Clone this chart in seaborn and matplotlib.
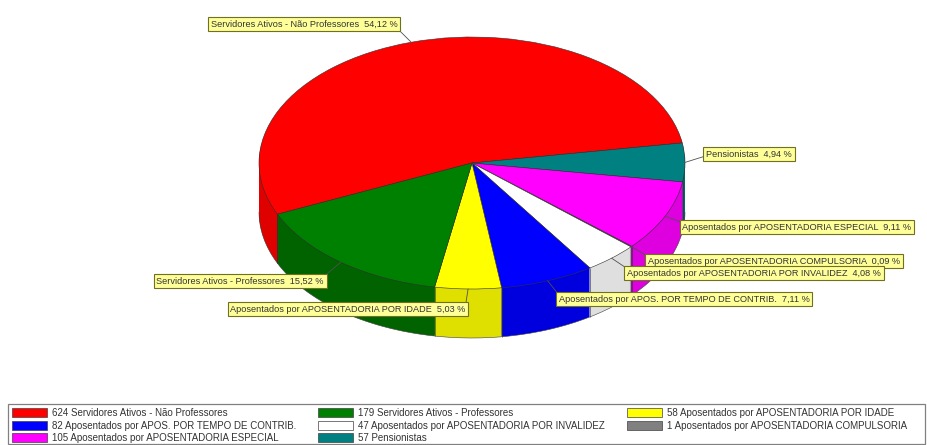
import numpy as np
import pandas as pd
import matplotlib.pyplot as plt
from matplotlib.patches import Patch, Rectangle
import seaborn as sns

# slice order around the pie, clockwise from the left edge of the red slice
names = ['Servidores Ativos - Não Professores', 'Pensionistas', 'Aposentados por APOSENTADORIA ESPECIAL',
         'Aposentados por APOSENTADORIA COMPULSORIA', 'Aposentados por APOSENTADORIA POR INVALIDEZ',
         'Aposentados por APOS. POR TEMPO DE CONTRIB.', 'Aposentados por APOSENTADORIA POR IDADE',
         'Servidores Ativos - Professores']
counts = [624, 57, 105, 1, 47, 82, 58, 179]
percents = ['54,12', '4,94', '9,11', '0,09', '4,08', '7,11', '5,03', '15,52']
colors = ['#ff0000', '#008080', '#ff00ff', '#808080', '#ffffff', '#0000ff', '#ffff00', '#008000']

# legend is filled column by column
legend_order = [0, 5, 2, 7, 4, 1, 6, 3]

# label box centres in pixels of the 928x445 picture, and where the leader leaves the box
label_px = [(304, 24), (749, 154), (797, 227), (774, 261), (754, 273), (684, 299), (348, 309), (240, 281)]
leader_rel = [(1, 0), (0, 0.3), (0, 1), (0, 1), (0, 1), (0, 1), (1, 1), (1, 1)]

W, H = 928, 445
CX, CY, RX, RY, DEPTH = 472, 163, 213, 126, 49
START = 204

sns.set_theme(style='white')
plt.rcParams['font.family'] = ['Liberation Sans', 'DejaVu Sans']

df = pd.DataFrame({'name': names, 'count': counts, 'pct': percents, 'color': colors})
side_colors = [tuple(c * 0.875 for c in rgb) for rgb in sns.color_palette(colors)]
side_colors[-1] = (0, 0.39, 0)
side_colors[1] = (0, 0.40, 0.40)


def to_data(px, py):
    return (px - CX) / RX, (CY - py) / RY


fig = plt.figure(figsize=(W / 100, H / 100), dpi=100)
ax = fig.add_axes([0, 0, 1, 1])

# side wall: same pie stacked downward, one pixel per layer
for d in range(DEPTH, 0, -1):
    ax.pie(df['count'], colors=side_colors, startangle=START, counterclock=False,
           center=(0, -d / RY), wedgeprops={'linewidth': 0})

# top face
ax.pie(df['count'], colors=df['color'], startangle=START, counterclock=False,
       wedgeprops={'edgecolor': '#303030', 'linewidth': 0.4})

ax.set_aspect('auto')
ax.set_xlim(-CX / RX, (W - CX) / RX)
ax.set_ylim((CY - H) / RY, CY / RY)
ax.axis('off')

fractions = df['count'].to_numpy() / df['count'].sum()
edges = START - 360 * np.concatenate([[0], np.cumsum(fractions)])
mids = (edges[:-1] + edges[1:]) / 2

# vertical seams on the front of the wall
for a in edges:
    if np.sin(np.radians(a)) < 0:
        x, y = np.cos(np.radians(a)), np.sin(np.radians(a))
        ax.plot([x, x], [y, y - DEPTH / RY], color='#303030', lw=0.4)

# outline under the wall
t = np.radians(np.linspace(180, 360, 200))
ax.plot(np.cos(t), np.sin(t) - DEPTH / RY, color='#404040', lw=0.4)

for i, row in df.iterrows():
    a = np.radians(mids[i])
    ax.annotate(f"{row['name']}  {row['pct']} %",
                xy=(np.cos(a), np.sin(a)), xytext=to_data(*label_px[i]),
                ha='center', va='center', fontsize=6.6, color='#333333',
                bbox={'boxstyle': 'square,pad=0.3', 'fc': '#ffff99', 'ec': '#707020', 'lw': 0.8},
                arrowprops={'arrowstyle': '-', 'color': '#505050', 'lw': 0.6, 'shrinkA': 0, 'shrinkB': 0,
                            'relpos': leader_rel[i], 'patchA': None},
                annotation_clip=False, zorder=10)

# legend frame and entries
ax.add_patch(Rectangle((8 / W, 1 / H), 917 / W, 40 / H, transform=ax.transAxes, fc='white',
                       ec='#808080', lw=0.9, clip_on=False))
handles = [Patch(fc=colors[i], ec='#404040', lw=0.5, label=f'{counts[i]} {names[i]}') for i in legend_order]
leg = ax.legend(handles=handles, ncol=3, frameon=False, loc='lower left', bbox_to_anchor=(12 / W, 2 / H),
                fontsize=7.05, labelcolor='#333333', handlelength=3.55, handleheight=1.0, handletextpad=0.5,
                labelspacing=0.25, columnspacing=2.3, borderpad=0, borderaxespad=0)
leg.set_zorder(11)

fig.savefig('out.png', dpi=100)
